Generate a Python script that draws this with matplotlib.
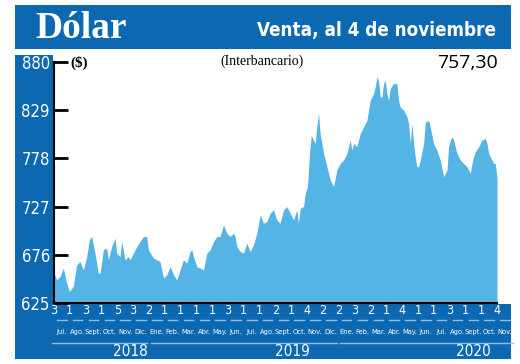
import matplotlib
matplotlib.use("Agg")
import matplotlib.pyplot as plt
import matplotlib.transforms as mtransforms
from matplotlib.patches import Rectangle
from matplotlib.lines import Line2D

# months since 3 Jul 2018 (x) and interbank dollar rate (y)
mes = [0.00, 0.17, 0.38, 0.59, 0.80, 0.97, 1.22, 1.43, 1.64, 1.86, 2.07, 2.23, 2.38, 2.59, 2.80,
       2.91, 3.12, 3.33, 3.44, 3.65, 3.86, 3.96, 4.17, 4.28, 4.49, 4.70, 4.81, 5.02, 5.23, 5.44,
       5.65, 5.86, 5.97, 6.28, 6.49, 6.70, 6.92, 7.13, 7.34, 7.55, 7.76, 7.97, 8.18, 8.39, 8.60,
       8.71, 8.81, 9.02, 9.23, 9.45, 9.66, 9.87, 10.08, 10.29, 10.50, 10.71, 10.92, 11.13, 11.34,
       11.45, 11.55, 11.76, 11.98, 12.19, 12.40, 12.61, 12.82, 13.03, 13.24, 13.45, 13.66, 13.87,
       14.08, 14.29, 14.51, 14.72, 14.93, 15.14, 15.35, 15.45, 15.56, 15.77, 15.88, 16.02, 16.15,
       16.26, 16.40, 16.51, 16.61, 16.72, 16.82, 17.04, 17.25, 17.46, 17.67, 17.88, 18.09, 18.30,
       18.51, 18.72, 18.83, 18.93, 19.14, 19.36, 19.57, 19.78, 19.99, 20.20, 20.30, 20.41, 20.51,
       20.62, 20.73, 20.83, 20.94, 21.04, 21.15, 21.25, 21.46, 21.67, 21.78, 21.88, 22.10, 22.31,
       22.41, 22.52, 22.62, 22.73, 22.83, 22.94, 23.04, 23.15, 23.36, 23.47, 23.57, 23.68, 23.78,
       23.99, 24.20, 24.41, 24.63, 24.84, 24.94, 25.05, 25.15, 25.26, 25.36, 25.47, 25.68, 25.89,
       26.10, 26.31, 26.42, 26.52, 26.63, 26.84, 27.05, 27.26, 27.37, 27.47, 27.68, 27.79, 27.89,
       28.00]
dolar = [656.7, 649.6, 653.1, 661.9, 646.1, 637.3, 642.6, 665.4, 669.0, 660.2, 674.2, 691.8, 695.3,
         677.8, 656.7, 656.7, 681.3, 683.0, 670.7, 684.8, 693.6, 677.8, 674.2, 690.1, 670.7, 674.2,
         670.7, 677.8, 684.8, 690.1, 695.3, 695.3, 681.3, 672.5, 670.7, 669.0, 651.4, 654.9, 663.7,
         654.9, 649.6, 660.2, 670.7, 667.2, 679.5, 681.3, 674.2, 663.7, 661.9, 660.2, 677.8, 681.3,
         690.1, 695.3, 695.3, 707.6, 698.9, 695.3, 698.9, 695.3, 684.8, 679.5, 677.8, 688.3, 679.5,
         686.5, 698.9, 718.2, 709.4, 711.2, 720.0, 723.5, 712.9, 709.4, 723.5, 727.0, 720.0, 712.9,
         723.5, 709.4, 725.2, 727.0, 741.1, 748.1, 783.3, 802.6, 797.3, 793.8, 811.4, 825.5, 804.4,
         783.3, 769.2, 755.1, 748.1, 765.7, 772.7, 776.2, 783.3, 797.3, 786.8, 793.8, 790.3, 804.4,
         811.4, 818.4, 839.5, 846.6, 853.6, 864.2, 860.6, 843.1, 843.1, 857.1, 860.6, 846.6, 839.5,
         851.8, 857.1, 857.1, 839.5, 832.5, 829.0, 822.0, 814.9, 793.8, 814.9, 793.8, 779.7, 769.2,
         769.2, 776.2, 793.8, 816.7, 816.7, 818.4, 811.4, 793.8, 786.8, 776.2, 758.6, 765.7, 790.3,
         797.3, 800.9, 797.3, 790.3, 783.3, 776.2, 772.7, 769.2, 762.2, 772.7, 779.7, 785.0, 790.3,
         797.3, 799.1, 793.8, 783.3, 776.2, 772.7, 772.7, 757.3]

y_ticks = [625, 676, 727, 778, 829, 880]
dias = [3, 1, 3, 1, 5, 3, 2, 1, 1, 1, 1, 3, 1, 1, 2, 1, 4, 2, 2, 3, 2, 1, 4, 1, 1, 3, 1, 1, 4]
meses = ["Jul.", "Ago.", "Sept.", "Oct.", "Nov.", "Dic.",
         "Ene.", "Feb.", "Mar.", "Abr.", "May.", "Jun.", "Jul.", "Ago.", "Sept.", "Oct.", "Nov.", "Dic.",
         "Ene.", "Feb.", "Mar.", "Abr.", "May.", "Jun.", "Jul.", "Ago.", "Sept.", "Oct.", "Nov."]
anios = ["2018", "2019", "2020"]

AZUL = "#0b68b1"
CELESTE = "#55b4e6"
LINEA = "#8dbde6"
COND = dict(family="DejaVu Sans", fontstretch="condensed")

W, H = 520, 364


def fx(px):
    return px / W


def fy(py):
    return 1 - py / H


fig = plt.figure(figsize=(5.2, 3.64), dpi=100)

# blue frame: title bar, left column, bottom band
for x0, y0, x1, y1 in [(15, 5, 511, 49), (15, 55, 53, 304), (15, 304, 511, 359)]:
    fig.patches.append(Rectangle((fx(x0), fy(y1)), (x1 - x0) / W, (y1 - y0) / H,
                                 transform=fig.transFigure, figure=fig,
                                 color=AZUL, lw=0, zorder=-5))

fig.text(fx(35), fy(38), "Dólar", color="white", fontsize=27, fontweight="bold",
         family="Liberation Serif", va="baseline")
fig.text(fx(496), fy(36), "Venta, al 4 de noviembre", color="white", fontsize=13.5,
         fontweight="bold", ha="right", va="baseline", **COND)

ax = fig.add_axes([fx(54), fy(303), (497 - 54) / W, (303 - 62) / H])
ax.fill_between(mes, dolar, 625, color=CELESTE, lw=0)
ax.set_xlim(0, 28)
ax.set_ylim(625, 880)
ax.patch.set_alpha(0)

ax.set_yticks(y_ticks)
ax.set_yticklabels([str(v) for v in y_ticks])
ax.tick_params(axis="y", direction="in", length=10, width=2, color="black",
               labelcolor="white", labelsize=12, pad=3)
for lbl in ax.get_yticklabels():
    lbl.set_family("DejaVu Sans")
    lbl.set_fontstretch("condensed")
ax.set_xticks([])
for s in ["top", "right"]:
    ax.spines[s].set_visible(False)
ax.spines["left"].set_linewidth(1.5)
ax.spines["bottom"].set_linewidth(1.5)

fig.text(fx(70), fy(63), "($)", fontsize=11, fontweight="bold", family="Liberation Serif",
         va="center")
fig.text(fx(262), fy(61), "(Interbancario)", fontsize=10, family="Liberation Serif",
         ha="center", va="center")
fig.text(fx(498), fy(63), "757,30", fontsize=14, family="Open Sans", ha="right", va="center")

# bottom axis: day numbers, month names, years
tr = mtransforms.blended_transform_factory(ax.transData, fig.transFigure)
for i, d in enumerate(dias):
    fig.text(i, fy(311), str(d), transform=tr, color="white", fontsize=9,
             ha="center", va="center", **COND)
    fig.add_artist(Line2D([i + 0.2, i + 0.8], [fy(320), fy(320)], transform=tr,
                          color=LINEA, lw=1))
    fig.text(i + 0.5, fy(332), meses[i], transform=tr, color="white", fontsize=5.4,
             ha="center", va="center", **COND)

for (a, b), lab, pos in zip([(-0.1, 5.9), (6.1, 17.9), (18.1, 29.0)], anios, [4.8, 15.1, 26.5]):
    fig.add_artist(Line2D([a, b], [fy(343), fy(343)], transform=tr, color=LINEA, lw=1))
    fig.text(pos, fy(352), lab, transform=tr, color="white", fontsize=11,
             ha="center", va="center", **COND)

fig.savefig("out.png", dpi=100)
